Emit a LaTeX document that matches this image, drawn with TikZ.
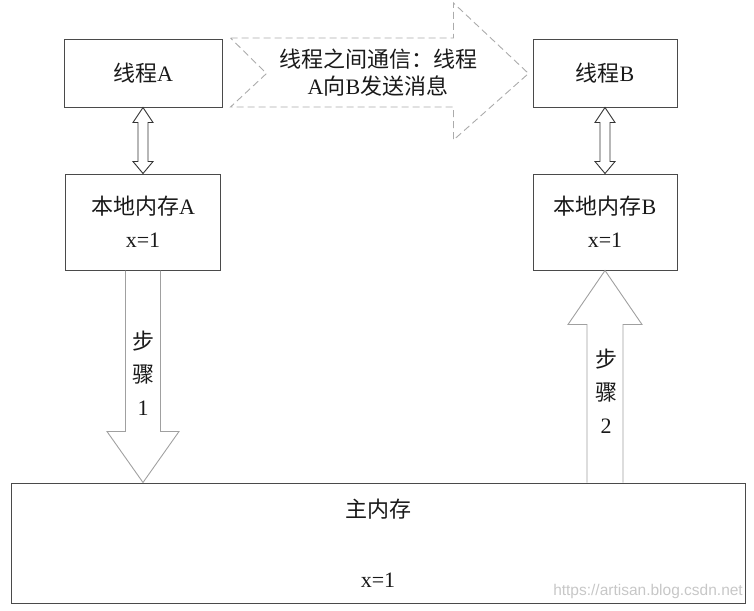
\documentclass[tikz,border=0pt]{standalone}
\usepackage{fontspec}
\setmainfont{Liberation Serif}
\setsansfont{Liberation Sans}
\newfontfamily\cjk{Noto Sans CJK SC}
\usepackage{xcolor}
\usetikzlibrary{calc,positioning}
\definecolor{boxline}{HTML}{4A4A4A}
\definecolor{stepline}{HTML}{A0A0A0}
\definecolor{msgline}{HTML}{ABABAB}

\begin{document}
\begin{tikzpicture}[x=1pt,y=-1pt,
  box/.style={draw=boxline,line width=1pt,inner sep=0pt,align=center,
    text=black!90,font=\fontsize{22}{33}\selectfont},
  dblarr/.style={draw=black!80,line width=0.9pt,line join=miter},
  steparr/.style={draw=stepline,line width=0.9pt,line join=miter},
  msgarr/.style={draw=msgline,line width=0.9pt,dash pattern=on 7pt off 4pt},
  lbl/.style={align=center,inner sep=0pt,text=black!90,
    font=\fontsize{22}{33}\selectfont}
]
\useasboundingbox (0,0) rectangle (754,610);
\node[box,minimum width=158pt,minimum height=67pt] (thrA)
  at (143,73.5) {{\cjk 线程}A};
\node[box,minimum width=155pt,minimum height=96pt] (memA)
  at (143,222) {{\cjk 本地内存}A\\x=1};
\node[box,minimum width=144pt,minimum height=67pt] (thrB)
  at (605,73.5) {{\cjk 线程}B};
\node[box,minimum width=144pt,minimum height=96pt] (memB)
  at (605,222) {{\cjk 本地内存}B\\x=1};
\node[box,minimum width=734pt,minimum height=120pt] (main)
  at (378,543) {{\cjk 主内存}\\[37pt]x=1};
% thread <-> local memory
\draw[dblarr] (thrA.south) -- ++(10,15) -- ++(-5,0)
  -- ($(memA.north)+(5,-12)$) -- ++(5,0) -- (memA.north)
  -- ++(-10,-12) -- ++(5,0) -- ($(thrA.south)+(-5,15)$) -- ++(-5,0) -- cycle;
\draw[dblarr] (thrB.south) -- ++(10,15) -- ++(-5,0)
  -- ($(memB.north)+(5,-12)$) -- ++(5,0) -- (memB.north)
  -- ++(-10,-12) -- ++(5,0) -- ($(thrB.south)+(-5,15)$) -- ++(-5,0) -- cycle;
% step 1 and step 2
\draw[steparr] ($(memA.south)+(-17.5,0)$)
  -- ($(memA.south |- main.north)+(-17.5,-51)$) -- ++(-18.5,0)
  -- (memA.south |- main.north) -- ++(36,-51) -- ++(-18.5,0)
  -- ($(memA.south)+(17.5,0)$);
\draw[steparr] ($(memB.south |- main.north)+(-18,0)$)
  -- ($(memB.south)+(-18,54)$) -- ++(-19,0) -- (memB.south)
  -- ++(37,54) -- ++(-19,0) -- ($(memB.south |- main.north)+(18,0)$);
\node[lbl] (step1) at (143,373) {{\cjk 步}\\{\cjk 骤}\\1};
\node[lbl] (step2) at (606,391) {{\cjk 步}\\{\cjk 骤}\\2};
% message from thread A to thread B
\draw[msgarr] ($(thrA.east)+(8,-35.5)$) -- ($(thrB.west)+(-79,-35.5)$)
  -- ++(0,-35) -- ($(thrB.west)+(-4,0)$) -- ($(thrB.west)+(-79,66.5)$)
  -- ++(0,-33) -- ($(thrA.east)+(8,33.5)$) -- ($(thrA.east)+(44,0)$) -- cycle;
\node[lbl,font=\fontsize{22}{27}\selectfont] (msg) at (378,72.5)
  {{\cjk 线程之间通信：线程}\\A{\cjk 向}B{\cjk 发送消息}};
\node[anchor=east,inner sep=0pt,text=black!22,
      font=\sffamily\fontsize{15.5}{15.5}\selectfont] (wm)
  at (743,591) {https://artisan.blog.csdn.net};
\end{tikzpicture}
\end{document}
